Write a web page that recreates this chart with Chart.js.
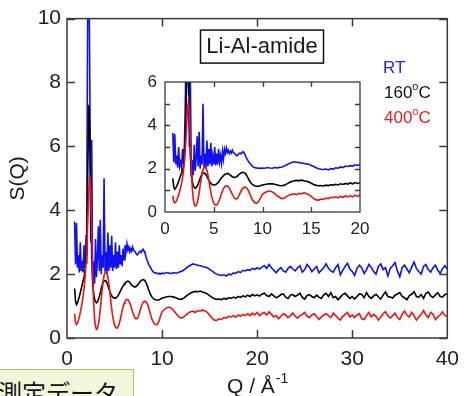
<!DOCTYPE html>
<html>
<head>
<meta charset="utf-8">
<script src="https://cdn.jsdelivr.net/npm/chart.js@4.4.0/dist/chart.umd.min.js"></script>
<style>
  html, body { margin: 0; padding: 0; background: #fff; }
  #wrap { position: relative; width: 468px; height: 396px; overflow: hidden; }
  #wrap canvas { position: absolute; left: 0; top: 0; }
  .tag {
    position: absolute; left: -6px; top: 369px; width: 140px; height: 40px;
    box-sizing: border-box; padding: 8px 0 0 3px;
    background: #f1f8da; border: 1px solid #9dc76c;
    font-family: "Noto Sans CJK JP", sans-serif; font-size: 24px; line-height: 28px; color: #111;
    white-space: nowrap;
  }
</style>
</head>
<body>
<div id="wrap">
  <canvas id="main" width="468" height="396"></canvas>
  <canvas id="inset" width="468" height="396"></canvas>
  <div class="tag">測定データ</div>
</div>
<script>
// Q grid (1/Å): fine steps through the Bragg-peak region, coarser above 10
const Q = [
  0.8, 0.9, 1.0, 1.1, 1.2, 1.3, 1.4, 1.5, 1.6, 1.7,
  1.8, 1.9, 2.0, 2.1, 2.2, 2.3, 2.4, 2.5, 2.6, 2.7,
  2.8, 2.9, 3.0, 3.1, 3.2, 3.3, 3.4, 3.5, 3.6, 3.7,
  3.8, 3.9, 4.0, 4.1, 4.2, 4.3, 4.4, 4.5, 4.6, 4.7,
  4.8, 4.9, 5.0, 5.1, 5.2, 5.3, 5.4, 5.5, 5.6, 5.7,
  5.8, 5.9, 6.0, 6.1, 6.2, 6.3, 6.4, 6.5, 6.6, 6.7,
  6.8, 6.9, 7.0, 7.1, 7.2, 7.3, 7.4, 7.5, 7.6, 7.7,
  7.8, 7.9, 8.0, 8.1, 8.2, 8.3, 8.4, 8.5, 8.6, 8.7,
  8.8, 8.9, 9.0, 9.1, 9.2, 9.3, 9.4, 9.5, 9.6, 9.7,
  9.8, 9.9, 10.0,
  10.25, 10.5, 10.75, 11, 11.25, 11.5, 11.75, 12,
  12.25, 12.5, 12.75, 13, 13.25, 13.5, 13.75, 14,
  14.25, 14.5, 14.75, 15, 15.25, 15.5, 15.75, 16,
  16.25, 16.5, 16.75, 17, 17.25, 17.5, 17.75, 18,
  18.25, 18.5, 18.75, 19, 19.25, 19.5, 19.75, 20,
  20.25, 20.5, 20.75, 21, 21.25, 21.5, 21.75, 22,
  22.25, 22.5, 22.75, 23, 23.25, 23.5, 23.75, 24,
  24.25, 24.5, 24.75, 25, 25.25, 25.5, 25.75, 26,
  26.25, 26.5, 26.75, 27, 27.25, 27.5, 27.75, 28,
  28.25, 28.5, 28.75, 29, 29.25, 29.5, 29.75, 30,
  30.25, 30.5, 30.75, 31, 31.25, 31.5, 31.75, 32,
  32.25, 32.5, 32.75, 33, 33.25, 33.5, 33.75, 34,
  34.25, 34.5, 34.75, 35, 35.25, 35.5, 35.75, 36,
  36.25, 36.5, 36.75, 37, 37.25, 37.5, 37.75, 38,
  38.25, 38.5, 38.75, 39, 39.25, 39.5, 39.75, 40
];

// S(Q), room temperature
const sRT = [
  3.65, 2.3, 3.6, 2.2, 2.6, 2.05, 3.0, 2.1, 2.3, 2.05,
  2.9, 2.2, 3.2, 5.5, 11.5, 12.0, 8.0, 3.0, 6.2, 1.6,
  2.4, 1.7, 3.1, 1.9, 2.5, 3.5, 2.1, 3.7, 2.0, 2.6,
  2.2, 5.0, 2.1, 2.7, 2.0, 3.3, 2.1, 2.9, 2.2, 3.2,
  2.1, 2.6, 2.2, 3.0, 2.15, 2.7, 2.2, 2.9, 2.3, 2.6,
  2.25, 2.8, 2.45, 2.9, 2.7, 2.95, 2.75, 2.85, 2.7, 2.8,
  2.72, 2.85, 2.75, 2.72, 2.68, 2.62, 2.6, 2.65, 2.7, 2.72,
  2.68, 2.74, 2.78, 2.72, 2.66, 2.55, 2.45, 2.38, 2.3, 2.25,
  2.2, 2.14, 2.1, 2.06, 2.05, 2.03, 2.04, 2.02, 2.01, 2.03,
  2.0, 2.02, 2.03,
  2.02, 2.05, 2.03, 2.02, 2.05, 2.03, 2.06, 2.08,
  2.12, 2.18, 2.24, 2.28, 2.32, 2.3, 2.28, 2.26,
  2.24, 2.22, 2.2, 2.15, 2.1, 2.04, 2.0, 1.97,
  1.96, 1.98, 1.94, 2.0, 1.98, 2.04, 2.02, 2.08,
  2.05, 2.12, 2.1, 2.14, 2.12, 2.18, 2.15, 2.2,
  2.16, 2.22, 2.26, 2.18, 2.3, 2.2, 2.12, 2.04,
  2.14, 2.2, 2.1, 2.06, 2.18, 2.24, 2.16, 2.1,
  2.2, 2.26, 2.06, 2.14, 2.3, 2.22, 2.08, 2.16,
  2.24, 2.04, 2.12, 2.2, 2.32, 2.18, 2.1, 2.06,
  2.2, 2.3, 1.98, 2.12, 2.24, 2.34, 2.16, 2.08,
  1.96, 2.18, 2.28, 2.2, 2.02, 2.14, 2.3, 2.22,
  2.08, 2.0, 2.24, 2.32, 2.14, 2.2, 1.94, 2.18,
  2.26, 2.36, 2.1, 1.92, 2.2, 2.28, 2.16, 2.04,
  2.22, 2.38, 2.18, 2.08, 2.0, 2.24, 2.3, 2.14,
  2.06, 2.2, 2.28, 2.12, 2.02, 2.18, 2.26, 2.16
];

// S(Q) after heating to 160 °C
const s160 = [
  1.55, 1.15, 1.05, 1.1, 1.2, 1.3, 1.42, 1.55, 1.68, 1.8,
  1.92, 2.1, 2.6, 3.6, 5.6, 7.3, 6.2, 4.2, 2.6, 1.8,
  1.4, 1.22, 1.13, 1.1, 1.13, 1.2, 1.3, 1.42, 1.55, 1.66,
  1.74, 1.79, 1.8, 1.78, 1.72, 1.64, 1.55, 1.46, 1.38, 1.32,
  1.28, 1.26, 1.25, 1.25, 1.27, 1.3, 1.34, 1.4, 1.46, 1.52,
  1.58, 1.63, 1.68, 1.72, 1.75, 1.77, 1.78, 1.77, 1.74, 1.7,
  1.66, 1.63, 1.61, 1.6, 1.6, 1.62, 1.65, 1.69, 1.73, 1.77,
  1.8, 1.82, 1.83, 1.82, 1.79, 1.74, 1.67, 1.59, 1.5, 1.42,
  1.35, 1.3, 1.26, 1.23, 1.21, 1.2, 1.19, 1.19, 1.19, 1.2,
  1.21, 1.23, 1.25,
  1.27, 1.29, 1.3, 1.3, 1.28, 1.25, 1.22, 1.21,
  1.24, 1.3, 1.36, 1.41, 1.44, 1.46, 1.45, 1.47,
  1.44, 1.42, 1.38, 1.33, 1.27, 1.23, 1.21, 1.22,
  1.2, 1.24, 1.22, 1.26, 1.24, 1.28, 1.25, 1.3,
  1.27, 1.32, 1.29, 1.34, 1.3, 1.36, 1.32, 1.35,
  1.31, 1.37, 1.4, 1.33, 1.3, 1.38, 1.32, 1.26,
  1.3, 1.36, 1.38, 1.28, 1.24, 1.34, 1.36, 1.3,
  1.34, 1.4, 1.27, 1.22, 1.33, 1.36, 1.3, 1.26,
  1.34, 1.28, 1.24, 1.35, 1.4, 1.3, 1.42, 1.26,
  1.3, 1.2, 1.28, 1.36, 1.4, 1.32, 1.24, 1.3,
  1.22, 1.3, 1.38, 1.36, 1.26, 1.42, 1.3, 1.24,
  1.32, 1.37, 1.29, 1.22, 1.35, 1.44, 1.3, 1.28,
  1.25, 1.34, 1.38, 1.42, 1.3, 1.26, 1.2, 1.33,
  1.37, 1.45, 1.3, 1.28, 1.36, 1.24, 1.4, 1.44,
  1.32, 1.27, 1.35, 1.42, 1.3, 1.28, 1.36, 1.38
];

// S(Q) after heating to 400 °C
const s400 = [
  0.76, 0.48, 0.42, 0.46, 0.55, 0.66, 0.8, 0.95, 1.12, 1.32,
  1.58, 1.9, 2.35, 2.95, 3.8, 4.7, 5.1, 4.6, 3.3, 2.0,
  1.1, 0.6, 0.36, 0.27, 0.3, 0.42, 0.62, 0.9, 1.2, 1.5,
  1.78, 1.96, 2.05, 2.08, 2.04, 1.92, 1.72, 1.46, 1.18, 0.92,
  0.7, 0.53, 0.41, 0.34, 0.31, 0.32, 0.37, 0.46, 0.58, 0.72,
  0.86, 0.98, 1.08, 1.15, 1.19, 1.21, 1.2, 1.16, 1.1, 1.02,
  0.92, 0.82, 0.73, 0.66, 0.61, 0.6, 0.62, 0.68, 0.77, 0.87,
  0.97, 1.05, 1.11, 1.14, 1.15, 1.14, 1.1, 1.03, 0.94, 0.83,
  0.72, 0.62, 0.54, 0.48, 0.44, 0.42, 0.41, 0.43, 0.48, 0.56,
  0.65, 0.74, 0.82,
  0.9, 0.95, 0.97, 0.93, 0.85, 0.75, 0.67, 0.62,
  0.65, 0.72, 0.78, 0.82, 0.84, 0.8, 0.86, 0.84,
  0.88, 0.85, 0.8, 0.72, 0.62, 0.56, 0.55, 0.6,
  0.58, 0.64, 0.62, 0.68, 0.66, 0.7, 0.65, 0.72,
  0.68, 0.74, 0.7, 0.76, 0.7, 0.78, 0.72, 0.8,
  0.7, 0.76, 0.8, 0.72, 0.82, 0.74, 0.66, 0.7,
  0.6, 0.68, 0.76, 0.72, 0.64, 0.7, 0.78, 0.68,
  0.62, 0.7, 0.74, 0.8, 0.68, 0.64, 0.72, 0.76,
  0.68, 0.58, 0.66, 0.72, 0.76, 0.7, 0.64, 0.78,
  0.7, 0.62, 0.56, 0.68, 0.74, 0.8, 0.66, 0.72,
  0.64, 0.72, 0.76, 0.6, 0.58, 0.7, 0.8, 0.66,
  0.74, 0.68, 0.56, 0.66, 0.76, 0.82, 0.7, 0.62,
  0.7, 0.78, 0.64, 0.58, 0.74, 0.84, 0.72, 0.66,
  0.8, 0.7, 0.56, 0.66, 0.74, 0.86, 0.72, 0.64,
  0.8, 0.74, 0.58, 0.66, 0.72, 0.82, 0.7, 0.68
];

const seriesNames = ['RT', '160', '400'];
const seriesColors = ['#1010f0', '#000000', '#f01010'];

const mainXTicks = [0, 10, 20, 30, 40];
const mainYTicks = [0, 2, 4, 6, 8, 10];
const insetXTicks = [0, 5, 10, 15, 20];
const insetYTicks = [0, 2, 4, 6];
const insetYMarks = [1, 2, 3, 4, 5];

const FONT = '"Liberation Sans", Arial, sans-serif';
Chart.defaults.font.family = FONT;
Chart.defaults.color = '#222';

const toPoints = ys => Q.map((q, i) => ({ x: q, y: ys[i] }));

// 400 °C drawn on top, RT underneath
const makeDatasets = () => [s400, s160, sRT].map((ys, k) => ({
  label: seriesNames[2 - k],
  data: toPoints(ys),
  borderColor: seriesColors[2 - k],
  borderWidth: 1.6,
  pointRadius: 0,
  tension: 0,
  clip: 0
}));

// box + inward tick marks on all four sides
const frame = {
  id: 'frame',
  afterDatasetsDraw(chart, args, opts) {
    const { ctx, chartArea: a, scales: { x, y } } = chart;
    ctx.save();
    ctx.strokeStyle = '#3a3a3a';
    ctx.lineWidth = opts.lineWidth;
    ctx.strokeRect(a.left, a.top, a.right - a.left, a.bottom - a.top);
    ctx.beginPath();
    opts.yMarks.forEach(v => {
      const p = Math.round(y.getPixelForValue(v)) + 0.5;
      ctx.moveTo(a.left, p); ctx.lineTo(a.left + opts.len, p);
      ctx.moveTo(a.right, p); ctx.lineTo(a.right - opts.len, p);
    });
    opts.xMarks.forEach(v => {
      const p = Math.round(x.getPixelForValue(v)) + 0.5;
      ctx.moveTo(p, a.top); ctx.lineTo(p, a.top + opts.len);
      ctx.moveTo(p, a.bottom); ctx.lineTo(p, a.bottom - opts.len);
    });
    ctx.stroke();
    ctx.restore();
  }
};

// draws "160°C" style text with a raised small "o"
function degreeText(ctx, num, x, y, size) {
  ctx.font = size + 'px ' + FONT;
  ctx.fillText(num, x, y);
  let cx = x + ctx.measureText(num).width;
  ctx.font = Math.round(size * 0.62) + 'px ' + FONT;
  ctx.fillText('o', cx, y - size * 0.45);
  cx += ctx.measureText('o').width;
  ctx.font = size + 'px ' + FONT;
  ctx.fillText('C', cx, y);
}

const annotations = {
  id: 'annotations',
  afterDraw(chart) {
    const { ctx, chartArea: a } = chart;
    ctx.save();
    ctx.fillStyle = '#1a1a1a';

    // y-axis title
    ctx.save();
    ctx.font = '21px ' + FONT;
    ctx.translate(18, (a.top + a.bottom) / 2);
    ctx.rotate(-Math.PI / 2);
    ctx.textAlign = 'center';
    ctx.textBaseline = 'middle';
    ctx.fillText('S(Q)', 0, 0);
    ctx.restore();

    // x-axis title: Q / Å^-1
    ctx.textBaseline = 'alphabetic';
    ctx.textAlign = 'left';
    ctx.font = '21px ' + FONT;
    const base = 'Q / Å';
    const wBase = ctx.measureText(base).width;
    ctx.font = '14px ' + FONT;
    const wSup = ctx.measureText('-1').width;
    let tx = (a.left + a.right) / 2 - (wBase + wSup) / 2;
    ctx.font = '21px ' + FONT;
    ctx.fillText(base, tx, a.bottom + 55);
    ctx.font = '14px ' + FONT;
    ctx.fillText('-1', tx + wBase + 1, a.bottom + 45);

    // sample label box
    ctx.font = '22px ' + FONT;
    ctx.textAlign = 'center';
    ctx.textBaseline = 'middle';
    ctx.fillText('Li-Al-amide', a.left + 195, a.top + 28);
    ctx.strokeStyle = '#111';
    ctx.lineWidth = 1.5;
    ctx.strokeRect(a.left + 133.5, a.top + 11.5, 123, 33);

    // legend
    ctx.textAlign = 'left';
    ctx.textBaseline = 'alphabetic';
    ctx.fillStyle = '#2424d8';
    ctx.font = '17px ' + FONT;
    ctx.fillText(seriesNames[0], a.left + 316, a.top + 54);
    ctx.fillStyle = '#111';
    degreeText(ctx, seriesNames[1], a.left + 317, a.top + 79, 17);
    ctx.fillStyle = '#e42020';
    degreeText(ctx, seriesNames[2], a.left + 317, a.top + 104, 17);
    ctx.restore();
  }
};

const fixedTicks = list => scale => { scale.ticks = list.map(v => ({ value: v })); };

new Chart(document.getElementById('main'), {
  type: 'line',
  data: { datasets: makeDatasets() },
  options: {
    responsive: false,
    animation: false,
    events: [],
    layout: { padding: { left: 0, top: 18, right: 13, bottom: 0 } },
    scales: {
      x: {
        type: 'linear', min: 0, max: 40,
        afterBuildTicks: fixedTicks(mainXTicks),
        afterFit: s => { s.height = 58; },
        grid: { display: false, drawTicks: false },
        border: { display: false },
        ticks: { font: { size: 21 }, padding: 9, maxRotation: 0, color: '#222' }
      },
      y: {
        min: 0, max: 10,
        afterBuildTicks: fixedTicks(mainYTicks),
        afterFit: s => { s.width = 67; },
        grid: { display: false, drawTicks: false },
        border: { display: false },
        ticks: { font: { size: 21 }, padding: 6, color: '#222' }
      }
    },
    plugins: {
      legend: { display: false },
      tooltip: { enabled: false },
      frame: { lineWidth: 1.5, len: 8, xMarks: [10, 20, 30], yMarks: mainYTicks }
    }
  },
  plugins: [frame, annotations]
});

// inset: low-Q region on a 0–6 scale
new Chart(document.getElementById('inset'), {
  type: 'line',
  data: { datasets: makeDatasets() },
  options: {
    responsive: false,
    animation: false,
    events: [],
    layout: { padding: { left: 0, top: 82, right: 108, bottom: 0 } },
    scales: {
      x: {
        type: 'linear', min: 0, max: 20,
        afterBuildTicks: fixedTicks(insetXTicks),
        afterFit: s => { s.height = 184; },
        grid: { display: false, drawTicks: false },
        border: { display: false },
        ticks: { font: { size: 17 }, padding: 7, maxRotation: 0, color: '#222' }
      },
      y: {
        min: 0, max: 6,
        afterBuildTicks: fixedTicks(insetYTicks),
        afterFit: s => { s.width = 165; },
        grid: { display: false, drawTicks: false },
        border: { display: false },
        ticks: { font: { size: 17 }, padding: 8, color: '#222' }
      }
    },
    plugins: {
      legend: { display: false },
      tooltip: { enabled: false },
      frame: { lineWidth: 1.3, len: 5, xMarks: [5, 10, 15], yMarks: insetYMarks }
    }
  },
  plugins: [frame]
});
</script>
</body>
</html>
